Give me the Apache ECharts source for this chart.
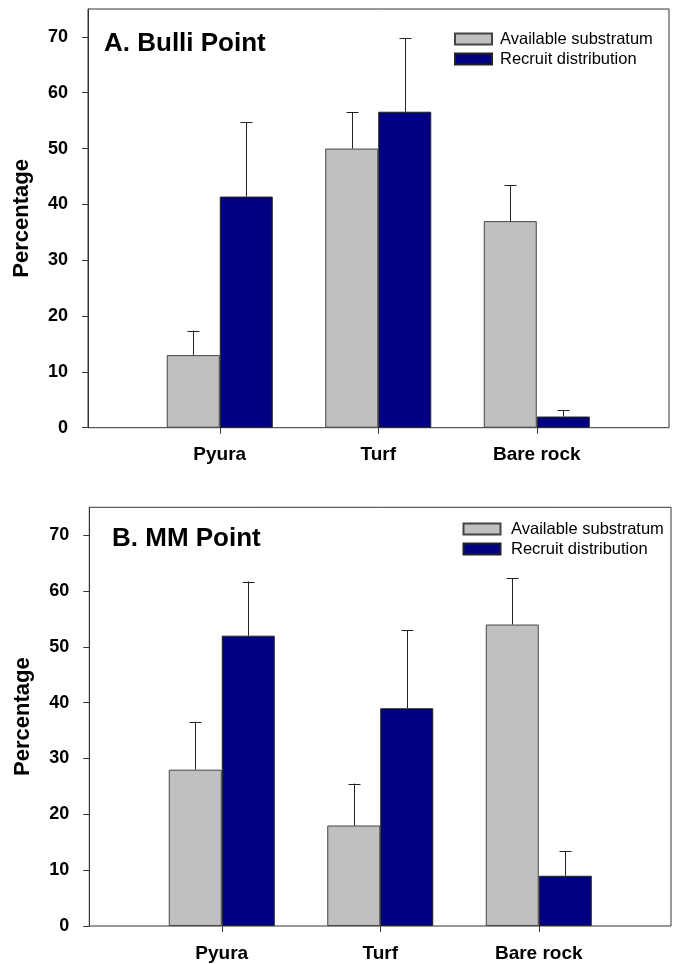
<!DOCTYPE html>
<html>
<head>
<meta charset="utf-8">
<script src="https://cdn.jsdelivr.net/npm/echarts@6/dist/echarts.min.js"></script>
<style>html,body{margin:0;padding:0;background:#fff}#c{width:678px;height:964px}</style>
</head>
<body>
<div id="c"></div>
<script>
var categories = ['Pyura', 'Turf', 'Bare rock'];
var seriesNames = ['Available substratum', 'Recruit distribution'];
var yTicks = [0, 10, 20, 30, 40, 50, 60, 70];
// Panel A: Bulli Point
var availA = [13, 50, 37];
var availAErr = [4.4, 6.5, 6.5];
var recruitA = [41.4, 56.6, 2];
var recruitAErr = [13.3, 13.2, 1.2];
// Panel B: MM Point
var availB = [28, 18, 54];
var availBErr = [8.6, 7.5, 8.3];
var recruitB = [52, 39, 9];
var recruitBErr = [9.7, 14, 4.4];

var FONT = "'Liberation Sans', Arial, sans-serif";
var BAR_W = 53;
var chart = echarts.init(document.getElementById('c'));

function errData(vals, errs) {
  return vals.map(function (v, i) { return [i, v, v + errs[i]]; });
}
function errRender(offset) {
  return function (params, api) {
    var p0 = api.coord([api.value(0), api.value(1)]);
    var p1 = api.coord([api.value(0), api.value(2)]);
    var x = Math.round(p0[0] + offset) + 0.5;
    var style = { stroke: '#222', lineWidth: 1 };
    return {
      type: 'group',
      children: [
        { type: 'line', shape: { x1: x, y1: p0[1], x2: x, y2: p1[1] }, style: style },
        { type: 'line', shape: { x1: x - 6, y1: Math.round(p1[1]) + 0.5, x2: x + 6, y2: Math.round(p1[1]) + 0.5 }, style: style }
      ]
    };
  };
}

var panels = [
  { top: 9, left: 88, width: 581, innerLeft: 140.5, title: 'A. Bulli Point', titleLeft: 104, titleTop: 31, legendLeft: 454, legendTop: 30.5, legendPad: 3,
    avail: availA, availErr: availAErr, recruit: recruitA, recruitErr: recruitAErr },
  { top: 507.3, left: 89.3, width: 581.7, innerLeft: 142.5, title: 'B. MM Point', titleLeft: 112, titleTop: 526, legendLeft: 462.5, legendTop: 520.5, legendPad: 5.5,
    avail: availB, availErr: availBErr, recruit: recruitB, recruitErr: recruitBErr }
];
var H = 418.7;

var option = { animation: false, textStyle: { fontFamily: FONT }, grid: [], xAxis: [], yAxis: [], series: [], title: [], legend: [] };

panels.forEach(function (p, k) {
  var go = k * 2, gi = k * 2 + 1;
  option.grid.push({ left: p.left, top: p.top, width: p.width, height: H, show: true, borderColor: '#333', borderWidth: 1, backgroundColor: 'transparent' });
  option.grid.push({ left: p.innerLeft, top: p.top, width: 475.5, height: H });
  option.xAxis.push({ gridIndex: go, type: 'value', show: false, min: 0, max: 1 });
  option.yAxis.push({
    gridIndex: go, type: 'value', min: 0, max: 75, interval: 10,
    name: 'Percentage', nameLocation: 'middle', nameGap: 55,
    nameTextStyle: { fontFamily: FONT, fontWeight: 'bold', fontSize: 22, color: '#000' },
    axisLine: { show: true, lineStyle: { color: '#333' } },
    axisTick: { show: true, length: 6, lineStyle: { color: '#333' }, customValues: yTicks },
    axisLabel: { fontFamily: FONT, fontWeight: 'bold', fontSize: 18, color: '#000', margin: 20, customValues: yTicks },
    splitLine: { show: false }
  });
  option.xAxis.push({
    gridIndex: gi, type: 'category', data: categories,
    axisLine: { show: false },
    axisTick: { show: true, alignWithLabel: true, length: 6, lineStyle: { color: '#333' } },
    axisLabel: { fontFamily: FONT, fontWeight: 'bold', fontSize: 19, color: '#000', margin: 18 }
  });
  option.yAxis.push({ gridIndex: gi, type: 'value', min: 0, max: 75, show: false, splitLine: { show: false } });

  option.series.push({
    name: seriesNames[0], type: 'bar', xAxisIndex: gi, yAxisIndex: gi, data: p.avail,
    barWidth: BAR_W, barGap: '0%',
    itemStyle: { color: '#c0c0c0', borderColor: '#444', borderWidth: 1 }
  });
  option.series.push({
    name: seriesNames[1], type: 'bar', xAxisIndex: gi, yAxisIndex: gi, data: p.recruit,
    barWidth: BAR_W, barGap: '0%',
    itemStyle: { color: '#000080', borderColor: '#222', borderWidth: 1 }
  });
  option.series.push({
    type: 'custom', xAxisIndex: gi, yAxisIndex: gi, data: errData(p.avail, p.availErr),
    renderItem: errRender(-BAR_W / 2), silent: true, z: 3
  });
  option.series.push({
    type: 'custom', xAxisIndex: gi, yAxisIndex: gi, data: errData(p.recruit, p.recruitErr),
    renderItem: errRender(BAR_W / 2), silent: true, z: 3
  });

  option.title.push({
    text: p.title, left: p.titleLeft, top: p.titleTop, padding: 0,
    textStyle: { fontFamily: FONT, fontWeight: 'bold', fontSize: 26, color: '#000' }
  });
  option.legend.push({
    data: seriesNames, orient: 'vertical', left: p.legendLeft, top: p.legendTop, padding: 0,
    itemWidth: 37, itemHeight: 11, itemGap: 3, icon: 'rect', selectedMode: false,
    textStyle: { fontFamily: FONT, fontSize: 16.5, lineHeight: 16.5, color: '#000', padding: [0, 0, 0, p.legendPad] }
  });
});

chart.setOption(option);
</script>
</body>
</html>
